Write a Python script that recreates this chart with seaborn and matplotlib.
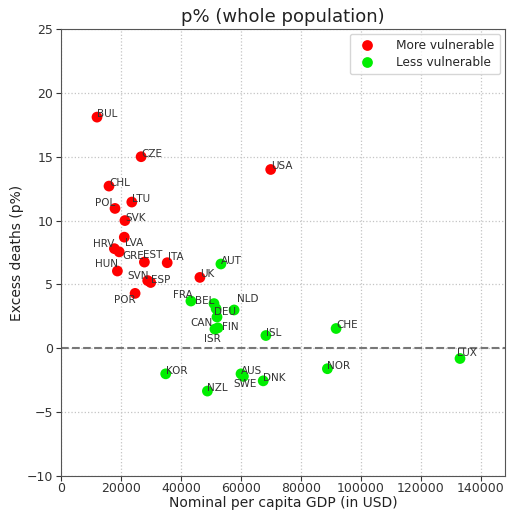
import matplotlib
matplotlib.use("Agg")
import matplotlib.pyplot as plt
import seaborn as sns
import pandas as pd

# ---- data ----
more_names = ["BUL", "CZE", "USA", "CHL", "LTU", "POL", "SVK", "LVA", "HRV", "GRE",
              "EST", "ITA", "HUN", "SVN", "ESP", "POR", "UK"]
more_gdp = [12000, 26700, 69900, 16000, 23600, 18000, 21300, 21100, 17800, 19400,
            27800, 35400, 18800, 28900, 29900, 24700, 46300]
more_excess = [18.1, 15.0, 14.0, 12.7, 11.45, 10.95, 10.0, 8.7, 7.8, 7.55,
               6.75, 6.7, 6.05, 5.3, 5.15, 4.3, 5.55]

less_names = ["AUT", "FRA", "BEL", "DEU", "NLD", "CAN", "FIN", "ISR", "ISL", "CHE",
              "LUX", "NOR", "KOR", "AUS", "SWE", "DNK", "NZL"]
less_gdp = [53300, 43300, 51000, 51700, 57700, 52000, 52300, 51300, 68300, 91700,
            133000, 88800, 34900, 60000, 60800, 67400, 48800]
less_excess = [6.6, 3.7, 3.5, 3.1, 3.0, 2.45, 1.6, 1.5, 1.0, 1.55,
               -0.8, -1.6, -2.0, -2.0, -2.2, -2.55, -3.35]

group_labels = ["More vulnerable", "Less vulnerable"]

# label offsets (pixels) for labels moved away from their points
label_offsets = {
    "POL": (-20, 2), "HRV": (-21, 2), "LVA": (1, -9), "GRE": (3, -7),
    "HUN": (-22, 4), "SVN": (-20, 2), "POR": (-21, -10), "FRA": (-18, 3),
    "BEL": (-19, 0), "NLD": (3, 8), "DEU": (-2, -6), "CAN": (-27, -9),
    "FIN": (4, -2), "ISR": (-11, -13), "SWE": (-10, -11), "LUX": (-3, 3),
    "EST": (-1, 4), "ITA": (1, 3),
}

df = pd.DataFrame({
    "name": more_names + less_names,
    "gdp": more_gdp + less_gdp,
    "excess": more_excess + less_excess,
    "group": [group_labels[0]] * len(more_names) + [group_labels[1]] * len(less_names),
})

sns.set_style("ticks")
plt.rcParams["font.family"] = ["DejaVu Sans"]

fig = plt.figure(figsize=(5.08, 5.18), dpi=100)
ax = fig.add_axes([61 / 508, 1 - 476 / 518, (505 - 61) / 508, (476 - 29) / 518])

ax.grid(True, linestyle=":", color="#c4c4c4", linewidth=0.9)
ax.set_axisbelow(True)
ax.axhline(0, color="#777777", linestyle="--", linewidth=1.5, zorder=1)

sns.scatterplot(data=df, x="gdp", y="excess", hue="group",
                palette={group_labels[0]: "#ff0000", group_labels[1]: "#00ee00"},
                s=60, edgecolor="none", ax=ax, zorder=3)

for n, xv, yv in zip(df["name"], df["gdp"], df["excess"]):
    dx, dy = label_offsets.get(n, (0, 0))
    ax.annotate(n, (xv, yv), xytext=(dx, dy), textcoords="offset pixels",
                ha="left", va="baseline", fontsize=7.5, color="#333333", zorder=4)

ax.set_xlim(0, 148000)
ax.set_ylim(-10, 25)
ax.set_xticks([0, 20000, 40000, 60000, 80000, 100000, 120000, 140000])
ax.set_yticks([-10, -5, 0, 5, 10, 15, 20, 25])
ax.tick_params(labelsize=9, colors="#333333", length=3.5, pad=2)
ax.tick_params(axis="x", pad=0.5)
ax.set_xlabel("Nominal per capita GDP (in USD)", fontsize=10, color="#222222", labelpad=1)
ax.set_ylabel("Excess deaths (p%)", fontsize=10, color="#222222", labelpad=2)
ax.set_title("p% (whole population)", fontsize=13, color="#222222", pad=5)

leg = ax.legend(loc="upper right", fontsize=8.7, title=None, frameon=True,
                markerscale=1.0, borderpad=0.45, labelspacing=0.3,
                handletextpad=1.4, borderaxespad=0.4)
for sp in ax.spines.values():
    sp.set_color("#555555")

fig.savefig("out.png", dpi=100)
